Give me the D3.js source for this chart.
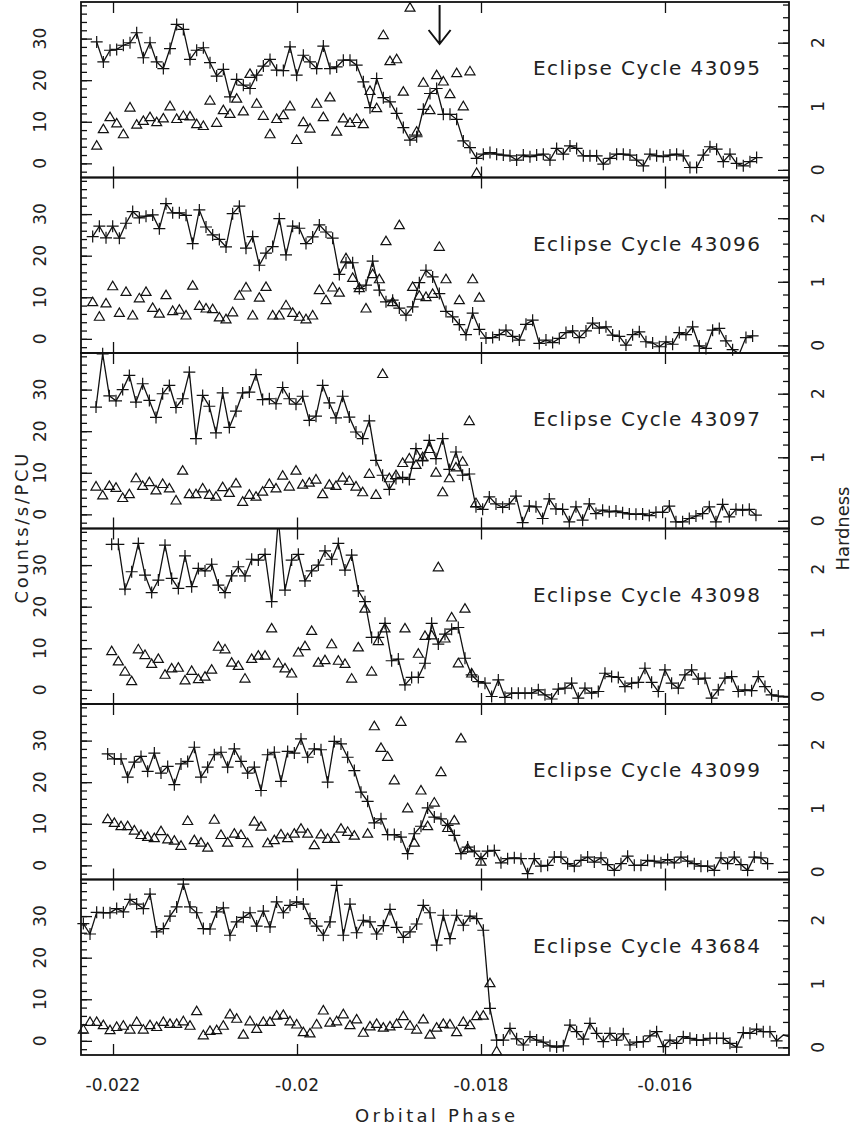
<!DOCTYPE html>
<html>
<head>
<meta charset="utf-8">
<script src="https://cdn.jsdelivr.net/npm/d3@7"></script>
<style>
body { margin: 0; background: #fff; }
text { font-family: "DejaVu Sans", sans-serif; fill: #222; }
</style>
</head>
<body>
<div id="plot"></div>
<script>
var width = 854;
var height = 1140;
var plot_left = 81, plot_right = 789, plot_top = 2, panel_h = 175.5;

// ---- data ----
var cycles = [43095, 43096, 43097, 43098, 43099, 43684];
var start_phase = [-0.0221775, -0.0222210, -0.0221848, -0.0220145, -0.0220580, -0.0223225];
var bin_width = 0.00007246;

var counts_43095 = [29.2, 24.4, 27.2, 27.4, 28.4, 29, 31.4, 25.4, 29, 24.4, 22.8, 27.6, 33.4, 32.2, 25, 27.2, 27.8, 24.2, 21, 22.6,
    16, 20.2, 18.8, 18, 21.2, 23.4, 25, 22.4, 22.3, 28, 21.2, 26, 24.4, 22.8, 28.2, 22.8, 23.2, 24.8, 24.8, 23.6,
    19.6, 13.4, 20.4, 15.8, 14.8, 12, 8.6, 5.6, 6.4, 13, 16.8, 18, 11.8, 11.8, 10.6, 5.4, 3.8,
    1.2, 2.2, 2.6, 2.2, 2.0, 1.8, 0.8, 2.0, 1.6, 2.0, 2.2, 0.8, 3.6, 2.2, 4.2, 3.6, 1.8, 1.8, 1.8, -0.2,
    1.2, 2.2, 2.2, 2.0, 0.8, -0.6, 2.2, 1.8, 1.6, 2.0, 2.2, 1.8, -1.0, -1.0, 2.0, 4.0, 3.4, 0.4, 2.2, 0, -0.6, 0.4, 1.4];
var hard_43095 = [0.38, 0.64, 0.83, 0.73, 0.56, 0.98, 0.71, 0.77, 0.83, 0.75, 0.81, 1.0, 0.8, 0.85, 0.84, 0.72, 0.69, 1.09, 0.74, 0.94,
    0.88, 1.12, 0.92, 1.51, 1.04, 0.85, 0.56, 0.8, 0.86, 1.0, 0.47, 0.75, 0.65, 1.04, 0.83, 1.14, 0.6, 0.81, 0.74, 0.8,
    0.72, 1.24, 0.97, 2.12, 1.71, 1.74, 1.23, 2.55, 0.6, 1.37, 0.94, 1.49, 1.39, 1.19, 1.52, 1.0, 1.55, -0.05];

var counts_43096 = [24.6, 27.1, 24.3, 27.1, 24.2, 27.8, 30.6, 29.1, 29.5, 29.8, 26.5, 32.5, 30.3, 30.3, 29.7, 22.9, 31, 26.9, 25, 23.9,
    22.1, 30.1, 31.9, 21.8, 24.6, 17.7, 20.6, 22.2, 28.9, 20.2, 27.1, 26.6, 22.9, 24.5, 27.4, 25.7, 24.2, 15.5, 18.3, 18.3,
    12.1, 12.9, 18.7, 11.7, 8.9, 9.3, 7.4, 5.7, 7.7, 13.5, 16.5, 14.9, 10.9, 6.6, 5.3, 3.4, 1.0,
    6.2, 2.3, 0.2, 0.3, 1.0, 2.1, 0.6, -0.3, 3.5, 4.5, -1.1, -0.3, -0.9, 0.1, 1.5, 1.9, 0.3, 1.9, 3.8, 2.6,
    2.9, 0.9, 0.6, -1.5, 1.0, 1.7, -0.7, -1.0, -1.9, -0.7, -1.3, 1.5, 1.0, 2.9, -1.7, -2.3, 2.1, 2.5, -0.5, -2.6, -3.6, 0.3, 0.7];
var hard_43096 = [0.68, 0.45, 0.66, 0.93, 0.51, 0.84, 0.47, 0.74, 0.84, 0.59, 0.5, 0.79, 0.54, 0.56, 0.47, 0.94, 0.62, 0.58, 0.57, 0.44,
    0.41, 0.52, 0.78, 0.91, 0.47, 0.75, 0.92, 0.47, 0.47, 0.63, 0.51, 0.45, 0.41, 0.47, 0.87, 0.71, 0.91, 0.83, 1.37, 1.06,
    0.9, 0.58, 1.12, 1.04, 1.64, 0.68, 1.89, null, 0.92, 0.78, 0.76, 0.81, 1.55, 1.04, null, 0.71, null, 1.04, 0.75];

var counts_43097 = [25.8, 38.6, 28.5, 27.3, 30, 33.4, 27, 31.4, 27.4, 23.3, 29, 31, 25.7, 27.8, 34.2, 18.2, 28.6, 26, 19.6, 29.2,
    20.9, 24.8, 29.2, 29.4, 33.6, 27.6, 27.8, 26.6, 30.5, 27.8, 26.5, 28.4, 22.6, 23.6, 31, 26.8, 23.2, 28.4, 23.4, 19.8,
    18.2, 22.5, 13, 9.4, 6, 8.6, 8.9, 8.4, 15.8, 13, 17.8, 13.4, 18.2, 10.8, 15, 9.4,
    9.7, 1.8, 1.2, 4.2, 2.5, 1.7, 2.5, 4.4, -2.0, 2.0, 1.8, -1.0, 3.7, 1.3, 1.2, -1.8, 1.8, -1.4, 2.5, 0.2,
    1.0, 0.6, 0.8, 0.4, 0.1, 0, 0.1, -0.3, 0.5, 0.5, 2.0, -1.8, -1.8, -1.0, -0.4, 0.2, 1.8, -1.8, 2.4, -0.6, 1.2, 1.0, 1.2, -0.2];
var hard_43097 = [0.54, 0.4, 0.55, 0.52, 0.36, 0.42, 0.67, 0.55, 0.61, 0.48, 0.58, 0.51, 0.32, 0.79, 0.42, 0.42, 0.51, 0.41, 0.38, 0.53,
    0.44, 0.59, 0.3, 0.41, 0.38, 0.46, 0.58, 0.51, 0.71, 0.54, 0.79, 0.57, 0.6, 0.65, 0.42, 0.57, 0.55, 0.68, 0.63, 0.54,
    0.45, 0.74, 0.41, 2.31, 0.67, 0.72, 0.91, 0.98, 0.88, 1.0, 1.13, 0.76, 0.45, 0.67, 0.84, 0.93, 1.57, 0.28];

var counts_43098 = [35, 35, 24.2, 28.4, 35.2, 27.6, 23.4, 26.4, 34.8, 26.8, 24.4, 32.2, 24.8, 29.2, 28.6, 30.2, 25.2, 23.4, 27.4, 29.6,
    27.4, 31.4, 31.2, 32.6, 21.2, 41, 24, 31.2, 32.6, 26.2, 28.6, 30, 33.4, 31.4, 35.2, 28.8, 32.4, 23.8, 21.2, 12.6,
    12.6, 16, 7, 7.4, 1.2, 3, 3, 6.4, 16, 11, 13.4, 14.6, 15,
    7.6, 3.6, 2, 1.6, -1.6, 2.4, -1.8, -0.8, -0.8, -0.8, -0.8, 0, -1.2, -2.2, 0.2, 0.4, 1.6, -2, 0.4, -0.8,
    -0.4, 4, 3.2, 3, 0.8, 1.6, 1.8, 5.2, 1.8, -0.4, 4.8, 1.6, 0.4, 3.6, 4.8, 2.6, 2.8, -2, 0, 2.8,
    3.2, -0.4, 0, -0.2, 3.2, 0.8, -1.2, -1.5, -1.6, -1.6];
var hard_43098 = [0.71, 0.55, 0.39, 0.24, 0.74, 0.65, 0.51, 0.59, 0.34, 0.44, 0.45, 0.25, 0.4, 0.27, 0.31, 0.42, 0.78, 0.74, 0.53, 0.48,
    0.28, 0.59, 0.64, 0.64, 1.07, 0.52, 0.44, 0.36, 0.69, 0.79, 1.03, 0.53, 0.57, 0.82, 0.56, 0.51, 0.28, 0.77, 1.38, 0.39,
    0.87, 1.07, null, null, 1.07, null, 0.67, 0.95, 0.96, 2.03, 0.91, 1.24, 0.52, 1.38, 0.36];

var counts_43099 = [26.8, 25.6, 25.6, 21.2, 24.8, 26.2, 22.6, 27, 22.2, 23.8, 19.4, 24.4, 25, 28.4, 21.2, 23.6, 26.6, 27.2, 23.6, 28,
    25, 22.2, 23.6, 18, 26.6, 27.2, 20.2, 27.4, 27, 30.4, 26, 28, 27.8, 20, 29.8, 29.2, 26, 22.8, 17.6, 15.4,
    10.2, 11.2, 7.4, 7.4, 6.8, 2.8, 7.6, 9.4, 13.8, 11.6, 11.2, 9.6, 7.2, 2.8, 4.4,
    3.4, 1.6, 3.4, 3.6, 0.6, 1.6, 1.8, 1.6, -2, 1.6, -0.2, 0, 2, 2, 0.4, -0.2, 1.2, 2, 0.8, 1.8,
    0.2, -1.2, 0.4, 2.2, 0, 0, 1.2, 1, 0.6, 1.4, 0.6, 2, 1, 0.4, -0.2, -0.2, -1.2, 1.8, 0.4, 2, 0.2, -1.2, 2, 1.8, 0.4];
var hard_43099 = [0.83, 0.77, 0.72, 0.72, 0.65, 0.58, 0.55, 0.53, 0.64, 0.51, 0.49, 0.41, 0.8, 0.5, 0.46, 0.38, 0.82, 0.58, 0.46, 0.6,
    0.58, 0.45, 0.79, 0.71, 0.45, 0.5, 0.59, 0.53, 0.6, 0.68, 0.6, 0.42, 0.59, 0.52, 0.52, 0.68, 0.63, 0.57, null, 0.6,
    2.29, 1.95, 1.81, 1.44, 2.36, 1.0, 0.46, 1.28, 0.72, 1.09, 1.57, 0.69, 0.81, 2.1, 0.37, null, 0.16];

var counts_43684 = [28.2, 25.7, 30.9, 30.8, 30.8, 31.8, 31, 34, 32.9, 31.8, 35.3, 26.2, 27, 30, 32.2, 37.7, 32.2, 30.8, 27, 26.9,
    31, 32, 25.4, 28.6, 29.7, 30.8, 27.6, 31.2, 27.4, 33.4, 30.8, 32.6, 33.4, 32.9, 29.4, 27.6, 25.4, 28.6, 37.4, 25.4,
    32.9, 26, 29, 28.6, 25.7, 27.7, 31.6, 27.3, 24.9, 26.2, 28.1, 32.6, 30.8, 23, 30.2, 24.6, 30.2, 27.8, 30,
    29.4, 26.6, 7.8, 0.2, 0.2, 3, 0.5, -1, 1, 0.2, -0.3, -1.2, -1.5, -1.2, 3.8, 2.2, 0.4, 4.2, 1.8, -0.2,
    1.8, 0.2, 1.7, -1, -0.3, -0.2, 1.2, 2.2, -1.4, 0.2, -0.6, 1, 0.6, 0.2, 0.2, 0.6, 0.6, 0.6, -0.6, -1.5,
    2, 1.8, 2.8, 2.2, 2.2, 0, 1.4, 1.0];
var hard_43684 = [0.28, 0.4, 0.4, 0.35, 0.27, 0.32, 0.34, 0.28, 0.4, 0.28, 0.35, 0.32, 0.4, 0.37, 0.37, 0.41, 0.34, 0.57, 0.19, 0.26,
    0.27, 0.34, 0.52, 0.45, 0.2, 0.41, 0.29, 0.4, 0.4, 0.5, 0.51, 0.41, 0.36, 0.24, 0.22, 0.36, 0.58, 0.39, 0.41, 0.52,
    0.35, 0.44, 0.23, 0.33, 0.37, 0.31, 0.33, 0.37, 0.49, 0.34, 0.28, 0.44, 0.2, 0.31, 0.37, 0.36, 0.24, 0.4, 0.35, 0.49,
    0.5, 1.01, -0.06];

var counts = [counts_43095, counts_43096, counts_43097, counts_43098, counts_43099, counts_43684];
var hardness = [hard_43095, hard_43096, hard_43097, hard_43098, hard_43099, hard_43684];

var x_ticks = [-0.022, -0.020, -0.018, -0.016];
var x_tick_labels = ["-0.022", "-0.02", "-0.018", "-0.016"];
var count_ticks = [0, 10, 20, 30];
var count_minor = d3.range(-2, 39, 2);
var hard_ticks = [0, 1, 2];
var hard_minor = d3.range(0, 2.61, 0.2);
var arrow_phase = -0.01845;

// ---- drawing ----
var canvas = d3.select('#plot')
    .append('svg')
    .attr('width', width)
    .attr('height', height);

var x_scale = d3.scaleLinear()
    .domain([-0.022348, -0.014652])
    .range([plot_left, plot_right]);

var count_domain = [-3.4, 38.8];
var hard_domain = [-0.12, 2.64];

function plusPath(x, y) {
    var s = 6;
    return 'M' + (x - s) + ',' + y + 'H' + (x + s) + 'M' + x + ',' + (y - s) + 'V' + (y + s);
}
function triPath(x, y) {
    return 'M' + (x - 5) + ',' + (y + 3.5) + 'L' + x + ',' + (y - 5) + 'L' + (x + 5) + ',' + (y + 3.5) + 'Z';
}

cycles.forEach(function(cycle, p) {
    var ptop = plot_top + p * panel_h;
    var pbot = ptop + panel_h;
    var y_c = d3.scaleLinear().domain(count_domain).range([pbot, ptop]);
    var y_h = d3.scaleLinear().domain(hard_domain).range([pbot, ptop]);

    var pts = counts[p].map(function(v, i) {
        return {phase: start_phase[p] + i * bin_width, c: v, h: hardness[p][i]};
    });

    var g = canvas.append('g').attr('class', 'panel');

    canvas.append('clipPath').attr('id', 'clip' + p)
        .append('rect')
        .attr('x', plot_left).attr('y', ptop)
        .attr('width', plot_right - plot_left).attr('height', panel_h);

    var line = d3.line()
        .x(function(d) { return x_scale(d.phase); })
        .y(function(d) { return y_c(d.c); });

    g.append('path')
        .datum(pts)
        .attr('clip-path', 'url(#clip' + p + ')')
        .attr('d', line)
        .attr('fill', 'none')
        .attr('stroke', '#111')
        .attr('stroke-width', 1.3);

    var inside_x = function(d) { var x = x_scale(d.phase); return x > plot_left && x < plot_right - 6; };

    g.selectAll('path.plus')
        .data(pts.filter(function(d) { return inside_x(d) && d.c > count_domain[0] && d.c < count_domain[1]; }))
        .enter()
        .append('path')
        .attr('class', 'plus')
        .attr('d', function(d) { return plusPath(x_scale(d.phase), y_c(d.c)); })
        .attr('stroke', '#111')
        .attr('stroke-width', 1.2);

    g.selectAll('path.tri')
        .data(pts.filter(function(d) { return d.h !== null && d.h !== undefined && inside_x(d) && d.h > hard_domain[0] && d.h < hard_domain[1]; }))
        .enter()
        .append('path')
        .attr('class', 'tri')
        .attr('d', function(d) { return triPath(x_scale(d.phase), y_h(d.h)); })
        .attr('fill', 'none')
        .attr('stroke', '#111')
        .attr('stroke-width', 1.2);

    // axes (ticks point inward)
    var axes = [
        d3.axisLeft(y_c).tickValues(count_minor).tickSize(-6),
        d3.axisLeft(y_c).tickValues(count_ticks).tickSize(-11)
    ];
    axes.forEach(function(ax) {
        g.append('g').attr('transform', 'translate(' + plot_left + ',0)')
            .call(ax.tickFormat(''))
            .call(function(s) { s.select('.domain').remove(); s.selectAll('line').attr('stroke', '#111').attr('stroke-width', 1.3); });
    });
    [d3.axisRight(y_h).tickValues(hard_minor).tickSize(-6),
     d3.axisRight(y_h).tickValues(hard_ticks).tickSize(-11)].forEach(function(ax) {
        g.append('g').attr('transform', 'translate(' + plot_right + ',0)')
            .call(ax.tickFormat(''))
            .call(function(s) { s.select('.domain').remove(); s.selectAll('line').attr('stroke', '#111').attr('stroke-width', 1.3); });
    });
    g.append('g').attr('transform', 'translate(0,' + pbot + ')')
        .call(d3.axisBottom(x_scale).tickValues(x_ticks).tickSize(-11).tickFormat(''))
        .call(function(s) { s.select('.domain').remove(); s.selectAll('line').attr('stroke', '#111').attr('stroke-width', 1.3); });
    g.append('g').attr('transform', 'translate(0,' + ptop + ')')
        .call(d3.axisTop(x_scale).tickValues(x_ticks).tickSize(-11).tickFormat(''))
        .call(function(s) { s.select('.domain').remove(); s.selectAll('line').attr('stroke', '#111').attr('stroke-width', 1.3); });

    // tick labels, rotated like the original
    g.selectAll('text.ylab')
        .data(count_ticks)
        .enter()
        .append('text')
        .attr('transform', function(d) { return 'translate(40,' + y_c(d) + ') rotate(-90)'; })
        .attr('text-anchor', 'middle')
        .attr('dy', '0.35em')
        .attr('font-size', 17)
        .text(function(d) { return d; });

    g.selectAll('text.hlab')
        .data(hard_ticks)
        .enter()
        .append('text')
        .attr('transform', function(d) { return 'translate(818,' + y_h(d) + ') rotate(-90)'; })
        .attr('text-anchor', 'middle')
        .attr('dy', '0.35em')
        .attr('font-size', 17)
        .text(function(d) { return d; });

    g.append('text')
        .attr('x', 533)
        .attr('y', ptop + 73)
        .attr('font-size', 20)
        .attr('textLength', 227)
        .attr('lengthAdjust', 'spacing')
        .text('Eclipse Cycle ' + cycle);

    g.append('rect')
        .attr('x', plot_left).attr('y', ptop)
        .attr('width', plot_right - plot_left).attr('height', panel_h)
        .attr('fill', 'none')
        .attr('stroke', '#111')
        .attr('stroke-width', 1.8);

    if (p === 0) {
        var ax = x_scale(arrow_phase);
        g.append('path')
            .attr('d', 'M' + ax + ',' + (ptop + 3) + 'V' + (ptop + 42) +
                'M' + (ax - 11) + ',' + (ptop + 28) + 'L' + ax + ',' + (ptop + 42) + 'L' + (ax + 11) + ',' + (ptop + 28))
            .attr('fill', 'none')
            .attr('stroke', '#111')
            .attr('stroke-width', 2);
    }
});

// bottom axis labels
var last_bot = plot_top + cycles.length * panel_h;
canvas.selectAll('text.xlab')
    .data(x_ticks)
    .enter()
    .append('text')
    .attr('x', function(d) { return x_scale(d); })
    .attr('y', last_bot + 36)
    .attr('text-anchor', 'middle')
    .attr('font-size', 17)
    .text(function(d, i) { return x_tick_labels[i]; });

canvas.append('text')
    .attr('x', 435)
    .attr('y', last_bot + 67)
    .attr('text-anchor', 'middle')
    .attr('font-size', 18)
    .attr('textLength', 160)
    .attr('lengthAdjust', 'spacing')
    .text('Orbital Phase');

canvas.append('text')
    .attr('transform', 'translate(22,' + (plot_top + 3 * panel_h) + ') rotate(-90)')
    .attr('text-anchor', 'middle')
    .attr('dy', '0.35em')
    .attr('font-size', 18)
    .attr('textLength', 150)
    .attr('lengthAdjust', 'spacing')
    .text('Counts/s/PCU');

canvas.append('text')
    .attr('transform', 'translate(843,' + (plot_top + 3 * panel_h) + ') rotate(-90)')
    .attr('text-anchor', 'middle')
    .attr('dy', '0.35em')
    .attr('font-size', 18)
    .attr('textLength', 84)
    .attr('lengthAdjust', 'spacing')
    .text('Hardness');
</script>
</body>
</html>
